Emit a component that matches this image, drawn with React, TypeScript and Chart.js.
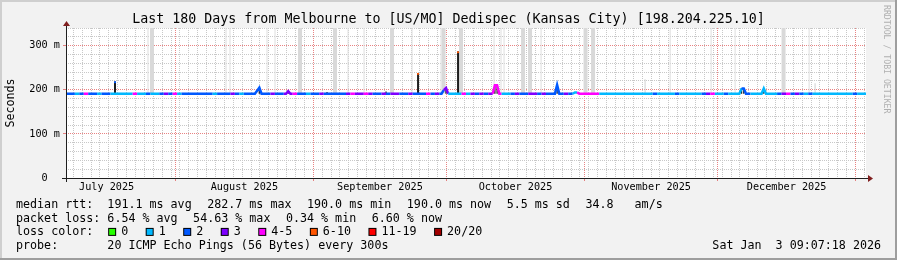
import React, { useEffect, useRef } from 'react';
import { Chart, registerables } from 'chart.js';

Chart.register(...registerables);

const MONO = "'DejaVu Sans Mono', monospace";

// ---------- texts ----------
const titleText = 'Last 180 Days from Melbourne to [US/MO] Dedispec (Kansas City) [198.204.225.10]';
const yAxisTitle = 'Seconds';
const watermarkText = 'RRDTOOL / TOBI OETIKER';
const dateText = 'Sat Jan  3 09:07:18 2026';
const medianLabel = 'median rtt:';
const medianStats = ['191.1 ms avg', '282.7 ms max', '190.0 ms min', '190.0 ms now', '5.5 ms sd', '34.8   am/s'];
const lossLabel = 'packet loss:';
const lossStats = ['6.54 % avg', '54.63 % max', '0.34 % min', '6.60 % now'];
const lossColorLabel = 'loss color:';
const lossLegendNames = ['0', '1', '2', '3', '4-5', '6-10', '11-19', '20/20'];
const lossLegendColors = ['#26ff00', '#00b8ff', '#0059ff', '#7e00ff', '#ff00ff', '#ff5500', '#ff0000', '#a10000'];
const probeLabel = 'probe:';
const probeText = '20 ICMP Echo Pings (56 Bytes) every 300s';

// ---------- x axis: days since 2025-07-01 00:00 ----------
const xStartDay = 6.36;
const xEndDay = 186.36;
const monthStartDays = [31, 62, 92, 123, 153, 184];
const monthLabelDays = [15.5, 46.5, 77, 107.5, 138, 168.5];
const monthLabels = ['July 2025', 'August 2025', 'September 2025', 'October 2025', 'November 2025', 'December 2025'];
const minorGridFirstDay = 8;
const minorGridStepDays = 2;

// ---------- y axis (ms) ----------
const yMaxMs = 340;
const yGridStepMs = 20;
const yLabelValuesMs = [0, 100, 200, 300];
const yLabelTexts = ['0  ', '100 m', '200 m', '300 m'];

// ---------- median rtt (half-day samples from xStartDay) ----------
const sampleStepDays = 0.5;
const sampleCount = 361;
const medianBaseMs = 191;
const medianBumpSamples = [86, 87, 100, 170, 171, 193, 194, 221, 229, 230, 304, 305, 314];
const medianBumpValuesMs = [198, 205, 197, 199, 204, 210, 210, 211, 194, 194, 203, 203, 203];

// loss class per day (1 = 1 lost, 2 = 2 lost, 3 = 3 lost, 4 = 4-5 lost)
const dailyLossClass =
  '2212422122' + '1111141121' + '1232412222' + '2221222321' + '2222223223' +
  '3422122322' + '2223433432' + '2323322322' + '2423231114' + '1323234411' +
  '2322332322' + '2232144444' + '1111111111' + '1121111211' + '1112341121' +
  '1122111111' + '2342321211' + '1111111211';
const lossClassColors: Record<string, string> = {
  '0': '#26ff00', '1': '#00b8ff', '2': '#0059ff', '3': '#7e00ff', '4': '#ff00ff', '5': '#ff5500', '6': '#ff0000', '7': '#a10000',
};

// ---------- smoke (ping spread) ----------
const smokeBaseMs = 192;
const smokeWideDays = [25.71, 59.02, 66.89, 79.72, 91.31, 95.24, 109.2, 110.77, 123.26, 124.95, 167.81];
const smokeThinDays = [24.81, 42.36, 43.26, 51.59, 53.39, 69.82, 73.42, 84.22, 90.74, 102.67, 104.24, 104.92, 113.25, 142.3, 151.51, 156.91, 173.56];
const smokeShortDays = [136.65, 174.9];
const smokeShortTopsMs = [224, 215];

// dark (dense smoke) spikes
const spikeDays = [17.39, 85.57, 94.57];
const spikeTopsMs = [219, 238, 287];
const spikeTipColors = ['#0059ff', '#ff5500', '#ff5500'];
const darkTickDays = [49.86, 56.36, 65.09, 78.37, 91.86, 102.86, 103.36, 116.86, 158.36, 158.86, 163.36];
const darkTickTopsMs = [205, 197, 195, 196, 204, 210, 210, 211, 203, 203, 203];

const GRID = '#c8c8c8';
const MGRID = 'rgba(222,79,79,0.7)';

export default function App() {
  const ref = useRef<HTMLCanvasElement>(null);

  useEffect(() => {
    const bumpMap = new Map<number, number>();
    medianBumpSamples.forEach((k, i) => bumpMap.set(k, medianBumpValuesMs[i]));
    const medianPoints = Array.from({ length: sampleCount }, (_, k) => ({
      x: xStartDay + k * sampleStepDays,
      y: bumpMap.has(k) ? (bumpMap.get(k) as number) : medianBaseMs,
    }));

    const barCommon = { type: 'bar' as const, stack: 's', borderWidth: 0, inflateAmount: 0, xAxisID: 'x', yAxisID: 'y' };

    const decor = {
      id: 'decor',
      beforeDraw(chart: any) {
        const { ctx, width, height, chartArea: a } = chart;
        ctx.save();
        ctx.fillStyle = '#f2f2f2';
        ctx.fillRect(0, 0, width, height);
        ctx.fillStyle = '#cfcfcf';
        ctx.fillRect(0, 0, width, 2);
        ctx.fillRect(0, 0, 2, height);
        ctx.fillStyle = '#9e9e9e';
        ctx.fillRect(0, height - 2, width, 2);
        ctx.fillRect(width - 2, 0, 2, height);
        ctx.fillStyle = '#ffffff';
        ctx.fillRect(a.left, a.top, a.right - a.left, a.bottom - a.top);
        ctx.restore();
      },
      afterDatasetsDraw(chart: any) {
        const { ctx, chartArea: a } = chart;
        const L = Math.round(a.left), B = Math.round(a.bottom), R = Math.round(a.right), T = Math.round(a.top);
        ctx.save();
        ctx.strokeStyle = '#1f1f1f';
        ctx.lineWidth = 1;
        ctx.beginPath();
        ctx.moveTo(L - 4, B + 0.5);
        ctx.lineTo(R + 4, B + 0.5);
        ctx.moveTo(L + 0.5, B + 4);
        ctx.lineTo(L + 0.5, T - 4);
        ctx.stroke();
        ctx.fillStyle = '#801f1f';
        ctx.beginPath();
        ctx.moveTo(R + 2, B - 3);
        ctx.lineTo(R + 2, B + 4);
        ctx.lineTo(R + 7, B + 0.5);
        ctx.closePath();
        ctx.fill();
        ctx.beginPath();
        ctx.moveTo(L - 3, T - 2);
        ctx.lineTo(L + 4, T - 2);
        ctx.lineTo(L + 0.5, T - 7);
        ctx.closePath();
        ctx.fill();
        ctx.restore();
      },
      afterDraw(chart: any) {
        const { ctx, width, chartArea: a } = chart;
        ctx.save();
        ctx.fillStyle = '#000';
        ctx.textBaseline = 'alphabetic';
        ctx.textAlign = 'center';
        ctx.font = `13.3px ${MONO}`;
        ctx.fillText(titleText, width / 2, 23);

        ctx.font = `11.68px ${MONO}`;
        ctx.save();
        ctx.translate(11, (a.top + a.bottom) / 2);
        ctx.rotate(-Math.PI / 2);
        ctx.textAlign = 'center';
        ctx.textBaseline = 'middle';
        ctx.fillText(yAxisTitle, 0, 0);
        ctx.restore();

        ctx.save();
        ctx.font = `8.2px ${MONO}`;
        ctx.fillStyle = '#b0b0b0';
        ctx.translate(886, 5);
        ctx.rotate(Math.PI / 2);
        ctx.textAlign = 'left';
        ctx.textBaseline = 'middle';
        ctx.fillText(watermarkText, 0, 0);
        ctx.restore();

        ctx.font = `11.68px ${MONO}`;
        ctx.textAlign = 'left';
        const cw = ctx.measureText('0').width;
        const left = 16;
        const valX = left + 13 * cw;
        const glue = 15.5;
        const rows = [208, 221.7, 235.4, 249.1];
        const drawItems = (y: number, label: string, items: string[]) => {
          ctx.fillText(label, left, y);
          let x = valX;
          items.forEach((s) => {
            ctx.fillText(s, x, y);
            x += ctx.measureText(s).width + glue;
          });
        };
        drawItems(rows[0], medianLabel, medianStats);
        drawItems(rows[1], lossLabel, lossStats);
        ctx.fillText(lossColorLabel, left, rows[2]);
        let bx = valX + 0.8;
        lossLegendNames.forEach((name, i) => {
          const by = rows[2] - 7.5;
          ctx.fillStyle = '#000';
          ctx.fillRect(bx, by, 8, 8);
          ctx.fillStyle = lossLegendColors[i];
          ctx.fillRect(bx + 1, by + 1, 6, 6);
          ctx.fillStyle = '#000';
          ctx.fillText(name, bx + 13, rows[2]);
          bx += ctx.measureText(name).width + 30.5;
        });
        drawItems(rows[3], probeLabel, [probeText]);
        ctx.textAlign = 'right';
        ctx.fillText(dateText, 881, rows[3]);
        ctx.restore();
      },
    };

    const chart = new Chart(ref.current as HTMLCanvasElement, {
      type: 'line',
      data: {
        datasets: [
          {
            type: 'line',
            data: medianPoints,
            xAxisID: 'x',
            yAxisID: 'y',
            borderWidth: 2.5,
            borderColor: '#00b8ff',
            pointRadius: 0,
            tension: 0,
            fill: false,
            segment: {
              borderColor: (c: any) => {
                const d = Math.min(179, Math.floor(c.p0DataIndex / 2));
                return lossClassColors[dailyLossClass[d]] || '#00b8ff';
              },
            },
          } as any,
          {
            ...barCommon,
            data: darkTickDays.map((d, i) => ({ x: d, y: [medianBaseMs, darkTickTopsMs[i]] })),
            backgroundColor: '#1e1e1e',
            barThickness: 1.3,
          } as any,
          {
            ...barCommon,
            data: spikeDays.map((d, i) => ({ x: d, y: [spikeTopsMs[i] - 4, spikeTopsMs[i]] })),
            backgroundColor: spikeTipColors,
            barThickness: 2,
          } as any,
          {
            ...barCommon,
            data: spikeDays.map((d, i) => ({ x: d, y: [medianBaseMs, spikeTopsMs[i]] })),
            backgroundColor: '#1e1e1e',
            barThickness: 2,
          } as any,
          {
            ...barCommon,
            data: smokeShortDays.map((d, i) => ({ x: d, y: [smokeBaseMs, smokeShortTopsMs[i]] })),
            backgroundColor: '#d0d0d0',
            barThickness: 1,
          } as any,
          {
            ...barCommon,
            data: smokeThinDays.map((d) => ({ x: d, y: [smokeBaseMs, yMaxMs] })),
            backgroundColor: '#dedede',
            barThickness: 1,
          } as any,
          {
            ...barCommon,
            data: smokeWideDays.map((d) => ({ x: d, y: [smokeBaseMs, yMaxMs] })),
            backgroundColor: '#d9d9d9',
            barThickness: 4,
          } as any,
        ],
      },
      options: {
        responsive: false,
        animation: false,
        devicePixelRatio: 1,
        events: [],
        layout: { padding: { left: 0, top: 28, right: 31, bottom: 63 } },
        plugins: { legend: { display: false }, tooltip: { enabled: false }, title: { display: false } },
        scales: {
          x: {
            type: 'linear',
            axis: 'x',
            position: 'bottom',
            min: xStartDay,
            max: xEndDay,
            offset: false,
            bounds: 'data',
            ticks: { display: false, autoSkip: false },
            border: { display: false, dash: [1, 1] },
            grid: {
              offset: false,
              drawTicks: true,
              tickLength: 3,
              lineWidth: 1,
              color: (c: any) => (c.tick && c.tick.major ? MGRID : GRID),
              tickColor: (c: any) => (c.tick && c.tick.major ? MGRID : 'rgba(0,0,0,0)'),
            },
            afterBuildTicks: (scale: any) => {
              const t: any[] = [];
              for (let d = minorGridFirstDay; d <= xEndDay; d += minorGridStepDays) {
                if (monthStartDays.some((m) => Math.abs(m - d) < 0.4)) continue;
                t.push({ value: d, major: false });
              }
              monthStartDays.forEach((m) => t.push({ value: m, major: true }));
              t.sort((p, q) => p.value - q.value);
              scale.ticks = t;
            },
            afterFit: (scale: any) => {
              scale.height = 3;
            },
          },
          x2: {
            type: 'linear',
            axis: 'x',
            position: 'bottom',
            min: xStartDay,
            max: xEndDay,
            offset: false,
            bounds: 'data',
            grid: { display: false, drawTicks: false },
            border: { display: false },
            ticks: {
              autoSkip: false,
              maxRotation: 0,
              minRotation: 0,
              padding: 0,
              color: '#000',
              font: { family: MONO, size: 10.2 },
              callback: (v: any) => {
                const i = monthLabelDays.indexOf(Number(v));
                return i >= 0 ? monthLabels[i] : '';
              },
            },
            afterBuildTicks: (scale: any) => {
              scale.ticks = monthLabelDays.map((d) => ({ value: d }));
            },
            afterFit: (scale: any) => {
              scale.height = 16;
            },
          },
          y: {
            type: 'linear',
            position: 'left',
            min: 0,
            max: yMaxMs,
            bounds: 'data',
            stacked: false,
            border: { display: false, dash: [1, 1] },
            grid: {
              drawTicks: true,
              tickLength: 3,
              lineWidth: 1,
              color: (c: any) => (c.tick && c.tick.value % 100 === 0 ? MGRID : GRID),
              tickColor: (c: any) => (c.tick && c.tick.value % 100 === 0 && c.tick.value > 0 ? MGRID : 'rgba(0,0,0,0)'),
            },
            ticks: {
              autoSkip: false,
              padding: 3,
              color: '#000',
              font: { family: MONO, size: 10.2 },
              callback: (v: any) => {
                const i = yLabelValuesMs.indexOf(Number(v));
                return i >= 0 ? yLabelTexts[i] : '';
              },
            },
            afterBuildTicks: (scale: any) => {
              const t: any[] = [];
              for (let v = 0; v <= yMaxMs; v += yGridStepMs) t.push({ value: v });
              scale.ticks = t;
            },
            afterFit: (scale: any) => {
              scale.width = 66;
            },
          },
        },
      } as any,
      plugins: [decor],
    });
    return () => chart.destroy();
  }, []);

  return (
    <div style={{ position: 'fixed', left: 0, top: 0, width: 897, height: 260 }}>
      <canvas ref={ref} width={897} height={260} style={{ display: 'block', width: 897, height: 260 }} />
    </div>
  );
}
